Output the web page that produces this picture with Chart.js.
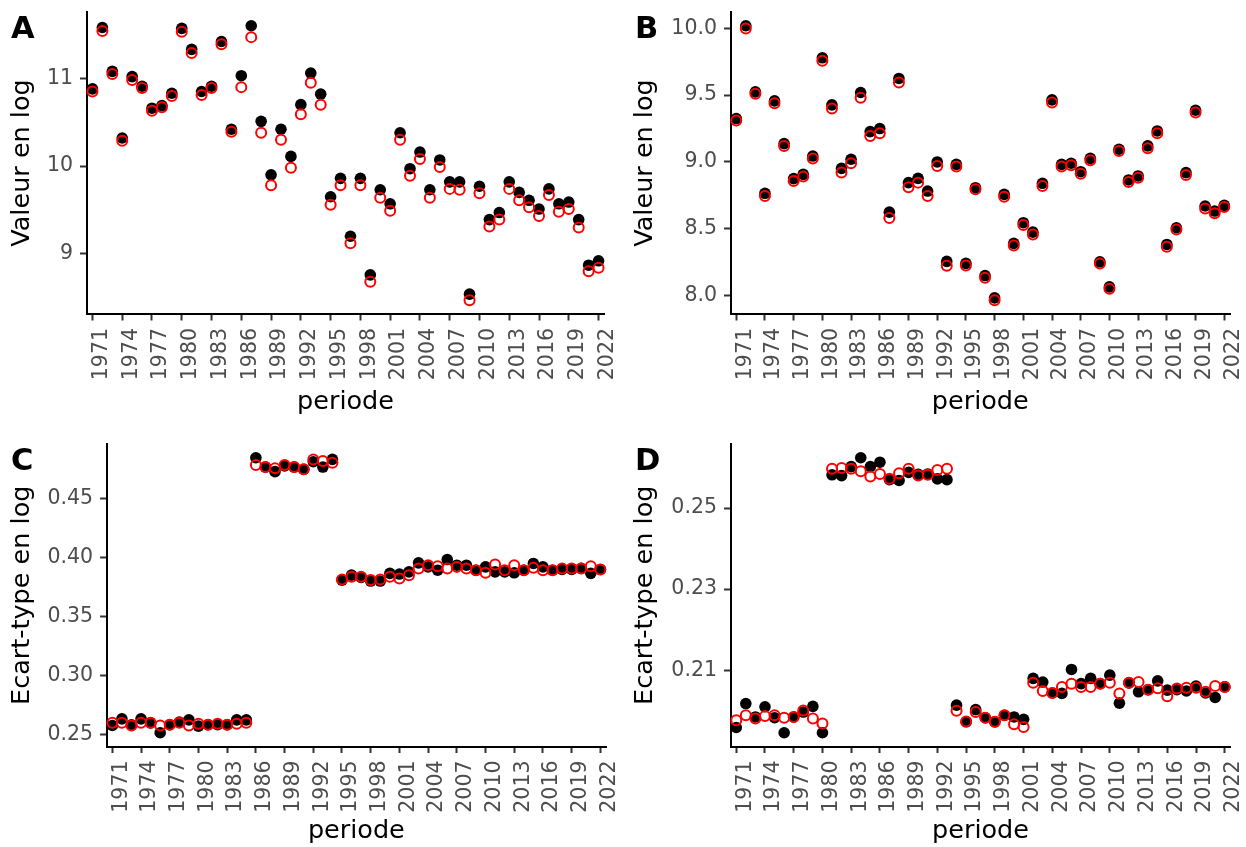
<!DOCTYPE html>
<html>
<head>
<meta charset="utf-8">
<script src="https://cdn.jsdelivr.net/npm/chart.js@4.4.1/dist/chart.umd.min.js"></script>
<style>
  html, body { margin: 0; padding: 0; background: #fff; }
  #page { position: relative; width: 1246px; height: 847px; }
  .panel { position: absolute; }
</style>
</head>
<body>
<div id="page">
  <div class="panel" style="left:0;top:0;width:623px;height:424px"><canvas id="chartA"></canvas></div>
  <div class="panel" style="left:623px;top:0;width:623px;height:424px"><canvas id="chartB"></canvas></div>
  <div class="panel" style="left:0;top:424px;width:623px;height:423px"><canvas id="chartC"></canvas></div>
  <div class="panel" style="left:623px;top:424px;width:623px;height:423px"><canvas id="chartD"></canvas></div>
</div>
<script>
const years = [1971, 1972, 1973, 1974, 1975, 1976, 1977, 1978, 1979, 1980,
  1981, 1982, 1983, 1984, 1985, 1986, 1987, 1988, 1989, 1990,
  1991, 1992, 1993, 1994, 1995, 1996, 1997, 1998, 1999, 2000,
  2001, 2002, 2003, 2004, 2005, 2006, 2007, 2008, 2009, 2010,
  2011, 2012, 2013, 2014, 2015, 2016, 2017, 2018, 2019, 2020,
  2021, 2022];
const xTicks = [1971, 1974, 1977, 1980, 1983, 1986, 1989, 1992, 1995, 1998,
  2001, 2004, 2007, 2010, 2013, 2016, 2019, 2022];

// panel A - valeur en log
const aBlack = [10.88, 11.58, 11.08, 10.32, 11.02, 10.91, 10.66, 10.69, 10.83, 11.57,
  11.33, 10.85, 10.91, 11.42, 10.42, 11.03, 11.60, 10.51, 9.90, 10.42,
  10.11, 10.70, 11.06, 10.82, 9.65, 9.86, 9.20, 9.86, 8.76, 9.73,
  9.57, 10.38, 9.97, 10.16, 9.73, 10.07, 9.82, 9.82, 8.54, 9.77,
  9.39, 9.47, 9.82, 9.70, 9.61, 9.51, 9.74, 9.57, 9.59, 9.39,
  8.87, 8.92];
const aRed = [10.85, 11.54, 11.05, 10.29, 10.98, 10.89, 10.63, 10.67, 10.80, 11.53,
  11.29, 10.81, 10.89, 11.39, 10.39, 10.90, 11.47, 10.38, 9.78, 10.30,
  9.98, 10.59, 10.95, 10.70, 9.56, 9.78, 9.12, 9.78, 8.68, 9.64,
  9.49, 10.30, 9.89, 10.08, 9.64, 9.99, 9.74, 9.73, 8.47, 9.69,
  9.31, 9.39, 9.74, 9.61, 9.53, 9.43, 9.67, 9.48, 9.51, 9.30,
  8.80, 8.84];

// panel B - valeur en log
const bBlack = [9.325, 10.02, 9.525, 8.765, 9.457, 9.137, 8.875, 8.907, 9.044, 9.78,
  9.427, 8.952, 9.02, 9.52, 9.227, 9.25, 8.624, 9.625, 8.845, 8.877,
  8.782, 9.0, 8.255, 8.982, 8.24, 8.807, 8.149, 7.982, 8.757, 8.39,
  8.545, 8.474, 8.84, 9.465, 8.982, 8.99, 8.927, 9.027, 8.252, 8.064,
  9.095, 8.865, 8.895, 9.12, 9.232, 8.382, 8.507, 8.92, 9.387, 8.67,
  8.632, 8.675];
const bRed = [9.31, 10.00, 9.51, 8.745, 9.44, 9.12, 8.857, 8.89, 9.025, 9.757,
  9.40, 8.92, 8.99, 9.48, 9.195, 9.215, 8.58, 9.595, 8.81, 8.845,
  8.745, 8.97, 8.222, 8.965, 8.225, 8.795, 8.132, 7.964, 8.74, 8.374,
  8.527, 8.457, 8.82, 9.445, 8.965, 8.975, 8.912, 9.012, 8.24, 8.05,
  9.082, 8.85, 8.882, 9.102, 9.215, 8.365, 8.494, 8.902, 9.37, 8.652,
  8.615, 8.662];

// panel C - ecart-type en log
const cBlack = [0.2576, 0.2632, 0.2582, 0.2632, 0.2598, 0.2514, 0.2582, 0.2604, 0.2623, 0.2570,
  0.2582, 0.2582, 0.2582, 0.2623, 0.2623, 0.4845, 0.4766, 0.4727, 0.4775, 0.4766,
  0.4747, 0.4811, 0.4766, 0.4831, 0.3808, 0.3850, 0.3831, 0.3800, 0.3800, 0.3865,
  0.3859, 0.3878, 0.3954, 0.3920, 0.3892, 0.3982, 0.3934, 0.3934, 0.3892, 0.3920,
  0.3878, 0.3878, 0.3870, 0.3892, 0.3949, 0.3920, 0.3892, 0.3898, 0.3898, 0.3907,
  0.3865, 0.3898];
const cRed = [0.2598, 0.2598, 0.2576, 0.2598, 0.2598, 0.2576, 0.2582, 0.2598, 0.2576, 0.2590,
  0.2582, 0.2590, 0.2582, 0.2590, 0.2598, 0.4783, 0.4766, 0.4755, 0.4783, 0.4766,
  0.4747, 0.4831, 0.4817, 0.4803, 0.3814, 0.3836, 0.3836, 0.3808, 0.3814, 0.3836,
  0.3822, 0.3850, 0.3907, 0.3934, 0.3926, 0.3907, 0.3920, 0.3907, 0.3892, 0.3870,
  0.3940, 0.3892, 0.3934, 0.3892, 0.3912, 0.3892, 0.3892, 0.3907, 0.3907, 0.3907,
  0.3926, 0.3898];

// panel D - ecart-type en log
const dBlack = [0.1959, 0.2018, 0.1985, 0.2010, 0.1983, 0.1946, 0.1985, 0.1997, 0.2011, 0.1946,
  0.2582, 0.2580, 0.2602, 0.2624, 0.2602, 0.2613, 0.2570, 0.2568, 0.2588, 0.2583,
  0.2584, 0.2572, 0.2570, 0.2014, 0.1973, 0.2003, 0.1983, 0.1973, 0.1989, 0.1985,
  0.1979, 0.2080, 0.2071, 0.2044, 0.2043, 0.2102, 0.2067, 0.2080, 0.2067, 0.2088,
  0.2019, 0.2069, 0.2047, 0.2052, 0.2074, 0.2051, 0.2052, 0.2049, 0.2061, 0.2044,
  0.2033, 0.2059];
const dRed = [0.1977, 0.1989, 0.1981, 0.1987, 0.1989, 0.1983, 0.1985, 0.2001, 0.1981, 0.1969,
  0.2597, 0.2599, 0.2597, 0.2591, 0.2578, 0.2584, 0.2572, 0.2586, 0.2597, 0.2580,
  0.2582, 0.2594, 0.2597, 0.2000, 0.1974, 0.1997, 0.1983, 0.1973, 0.1989, 0.1967,
  0.1960, 0.2069, 0.2049, 0.2044, 0.2059, 0.2067, 0.2059, 0.2059, 0.2067, 0.2069,
  0.2043, 0.2069, 0.2071, 0.2052, 0.2056, 0.2036, 0.2055, 0.2057, 0.2057, 0.2047,
  0.2061, 0.2059];

const yTicksA = [9, 10, 11];
const yTicksB = [8.0, 8.5, 9.0, 9.5, 10.0];
const yTicksC = [0.25, 0.30, 0.35, 0.40, 0.45];
const yTicksD = [0.21, 0.23, 0.25];

const FONT = "'DejaVu Sans', Verdana, sans-serif";

function toPoints(vals) {
  return years.map((yr, i) => ({ x: yr, y: vals[i] }));
}

// panel letter (A, B, C, D) in the top left corner
const tagPlugin = {
  id: 'tag',
  afterDraw(chart, args, opts) {
    const ctx = chart.ctx;
    ctx.save();
    ctx.font = 'bold 30.5px ' + FONT;
    ctx.fillStyle = '#000';
    ctx.textAlign = 'left';
    ctx.textBaseline = 'alphabetic';
    ctx.fillText(opts.text, opts.x, opts.y);
    ctx.restore();
  }
};

function makePanel(id, tag, black, red, yTicks, decimals, yTitle, lay) {
  const all = black.concat(red);
  const lo = Math.min(...all);
  const hi = Math.max(...all);
  const pad = (hi - lo) * 0.05;  // same expansion as ggplot

  new Chart(document.getElementById(id), {
    type: 'scatter',
    data: {
      datasets: [
        {
          data: toPoints(red),
          order: 1,
          pointRadius: 5,
          pointBorderWidth: 2,
          pointBorderColor: '#FF0000',
          pointBackgroundColor: 'rgba(0,0,0,0)',
          clip: false
        },
        {
          data: toPoints(black),
          order: 2,
          pointRadius: 5.8,
          pointBorderWidth: 0,
          pointBorderColor: '#000',
          pointBackgroundColor: '#000',
          clip: false
        }
      ]
    },
    options: {
      responsive: true,
      maintainAspectRatio: false,
      animation: false,
      events: [],
      layout: {
        padding: { left: 0, top: lay.padTop, right: lay.padRight, bottom: 0 }
      },
      plugins: {
        legend: { display: false },
        tooltip: { enabled: false },
        tag: { text: tag, x: lay.tagX, y: lay.tagY }
      },
      scales: {
        x: {
          type: 'linear',
          min: 1970.4,
          max: 2022.6,
          afterBuildTicks: s => { s.ticks = xTicks.map(v => ({ value: v })); },
          afterFit: s => {
            s.height = lay.xAxisH;
            s.paddingLeft = 0;
            s.paddingRight = 0;
          },
          border: { display: true, color: '#000', width: 2 },
          grid: {
            display: true,
            drawOnChartArea: false,
            drawTicks: true,
            tickLength: 6.5,
            tickColor: '#333333',
            tickWidth: 2
          },
          ticks: {
            autoSkip: false,
            minRotation: 90,
            maxRotation: 90,
            padding: 7.5,
            labelOffset: 9,
            color: '#4D4D4D',
            font: { family: FONT, size: 20.5 },
            callback: v => String(v)
          },
          title: {
            display: true,
            text: 'periode',
            color: '#000',
            font: { family: FONT, size: 25.5, lineHeight: 1 },
            padding: { top: 0, bottom: lay.xTitlePad }
          }
        },
        y: {
          type: 'linear',
          min: lo - pad,
          max: hi + pad,
          afterBuildTicks: s => { s.ticks = yTicks.map(v => ({ value: v })); },
          afterFit: s => {
            s.width = lay.yAxisW;
            s.paddingTop = 0;
            s.paddingBottom = 0;
          },
          border: { display: true, color: '#000', width: 2 },
          grid: {
            display: true,
            drawOnChartArea: false,
            drawTicks: true,
            tickLength: 6.5,
            tickColor: '#333333',
            tickWidth: 2
          },
          ticks: {
            autoSkip: false,
            padding: 7,
            color: '#4D4D4D',
            font: { family: FONT, size: 20.5 },
            callback: v => Number(v).toFixed(decimals)
          },
          title: {
            display: true,
            text: yTitle,
            color: '#000',
            font: { family: FONT, size: 25.5, lineHeight: 1 },
            padding: { top: lay.yTitlePad, bottom: 0 }
          }
        }
      }
    },
    plugins: [tagPlugin]
  });
}

makePanel('chartA', 'A', aBlack, aRed, yTicksA, 0, 'Valeur en log',
  { yAxisW: 86.5, padTop: 12, padRight: 18.5, xAxisH: 110, xTitlePad: 9, yTitlePad: 9.5, tagX: 11, tagY: 38 });
makePanel('chartB', 'B', bBlack, bRed, yTicksB, 1, 'Valeur en log',
  { yAxisW: 107.5, padTop: 12, padRight: 16, xAxisH: 110, xTitlePad: 9, yTitlePad: 9.5, tagX: 12, tagY: 38 });
makePanel('chartC', 'C', cBlack, cRed, yTicksC, 2, 'Ecart-type en log',
  { yAxisW: 106.6, padTop: 20, padRight: 16.9, xAxisH: 100.5, xTitlePad: 2.5, yTitlePad: 9.5, tagX: 11, tagY: 46 });
makePanel('chartD', 'D', dBlack, dRed, yTicksD, 2, 'Ecart-type en log',
  { yAxisW: 107.5, padTop: 20, padRight: 15.5, xAxisH: 100.5, xTitlePad: 2.5, yTitlePad: 9.5, tagX: 12, tagY: 46 });
</script>
</body>
</html>
